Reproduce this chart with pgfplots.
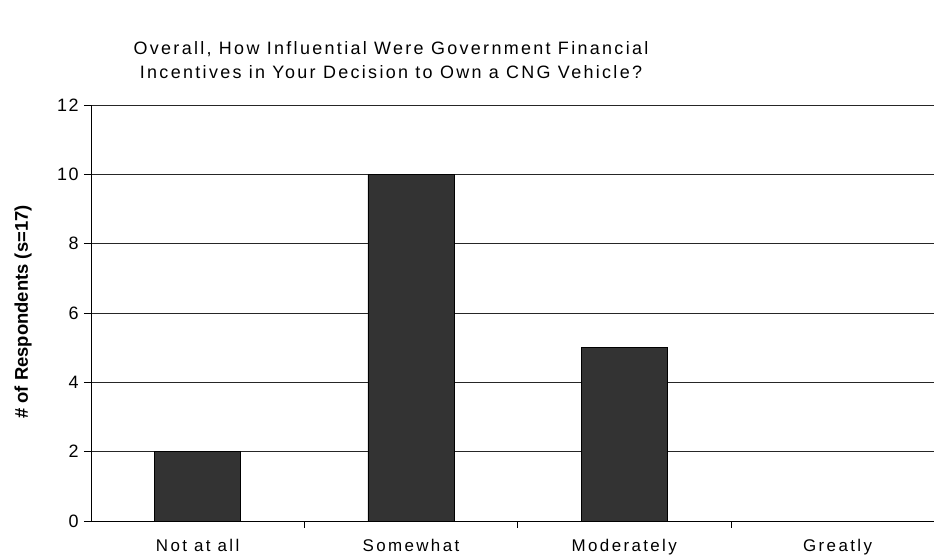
\documentclass[border=0pt]{standalone}
\usepackage{fontspec}
\setmainfont{Liberation Sans}
\usepackage{pgfplots}
\pgfplotsset{compat=1.18}
\definecolor{barc}{HTML}{333333}
\begin{document}
\begin{tikzpicture}
\begin{axis}[
  at={(91bp,38bp)}, anchor=south west,
  scale only axis, width=843bp, height=416bp,
  xmin=-0.5, xmax=3.452, ymin=0, ymax=12,
  axis lines=left, axis line style={-, black, line width=0.9bp},
  ytick={0,2,...,12},
  xtick={0.5,1.5,2.5}, xticklabels={,,},
  extra x ticks={0,1,2,3},
  extra x tick labels={Not at all,Somewhat,Moderately,Greatly},
  extra x tick style={major tick length=0pt, grid=none,
    xticklabel style={font=\fontsize{17}{20}\selectfont\addfontfeature{LetterSpace=14}, yshift=-15bp}},
  tick align=outside, major tick length=7bp,
  tick style={black, line width=0.8bp},
  ymajorgrids, grid style={black!85, line width=0.7bp},
  yticklabel style={font=\fontsize{18}{21}\selectfont\addfontfeature{LetterSpace=8}, xshift=-2bp},
  /pgf/number format/assume math mode=true,
  ybar, bar width=0.403,
  clip=false,
]
\addplot[fill=barc, draw=black, line width=0.6bp] coordinates {(0,2) (1,10) (2,5) (3,0)};
\end{axis}
\node[rotate=90, font=\bfseries\fontsize{18.5}{22}\selectfont] at (23bp,247bp) {\# of Respondents (s=17)};
\node[align=center, font=\fontsize{18}{24}\selectfont\addfontfeature{LetterSpace=13}] at (391bp,499bp) {Overall, How Influential Were Government Financial\\Incentives in Your Decision to Own a CNG Vehicle?};
\pgfresetboundingbox
\useasboundingbox (0,0) rectangle (934bp,559bp);
\end{tikzpicture}
\end{document}
